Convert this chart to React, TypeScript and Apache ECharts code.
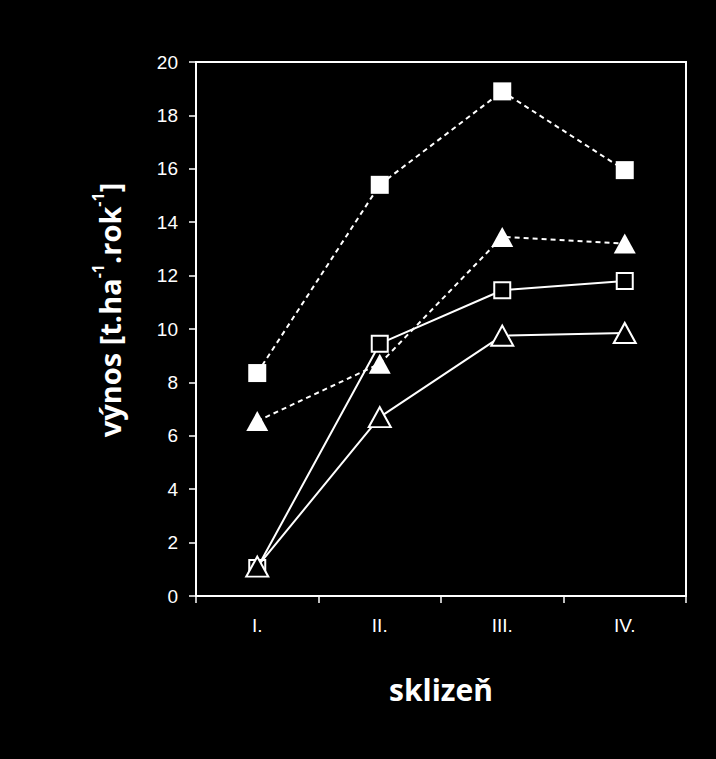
import React, { useEffect, useRef } from "react";
import * as echarts from "echarts";

const categories = ["I.", "II.", "III.", "IV."];
const filledSquares = [8.35, 15.4, 18.9, 15.95];
const filledTriangles = [6.55, 8.7, 13.45, 13.2];
const openSquares = [1.05, 9.45, 11.45, 11.8];
const openTriangles = [1.1, 6.7, 9.75, 9.85];
const yTicks = { min: 0, max: 20, interval: 2 };

export default function App() {
  const ref = useRef<HTMLDivElement>(null);
  useEffect(() => {
    if (!ref.current) return;
    const chart = echarts.init(ref.current, null, { renderer: "svg" });
    const font = "'Liberation Sans', Arial, sans-serif";
    const titleFont = "'Open Sans', sans-serif";
    const white = "#ffffff";
    chart.setOption({
      animation: false,
      backgroundColor: "#000000",
      grid: {
        left: 196,
        right: 30,
        top: 62,
        bottom: 163,
        show: true,
        borderColor: white,
        borderWidth: 2,
        backgroundColor: "transparent",
      },
      xAxis: {
        type: "category",
        data: categories,
        boundaryGap: true,
        axisLine: { show: true, lineStyle: { color: white, width: 2 } },
        axisTick: { show: true, inside: false, length: 7, lineStyle: { color: white, width: 1.5 } },
        axisLabel: { color: white, fontSize: 19, fontFamily: font, margin: 20 },
        splitLine: { show: false },
        name: "sklizeň",
        nameLocation: "middle",
        nameGap: 78,
        nameTextStyle: { color: white, fontSize: 30, fontWeight: "bold", fontFamily: titleFont },
      },
      yAxis: {
        type: "value",
        min: yTicks.min,
        max: yTicks.max,
        interval: yTicks.interval,
        axisLine: { show: true, lineStyle: { color: white, width: 2 } },
        axisTick: { show: true, inside: false, length: 7, lineStyle: { color: white, width: 1.5 } },
        axisLabel: { color: white, fontSize: 19, fontFamily: font, margin: 18 },
        splitLine: { show: false },
      },
      graphic: [
        {
          type: "text",
          x: 107,
          y: 310,
          rotation: Math.PI / 2,
          style: {
            text: "{m|výnos [t.ha}{s|-1}{m|.rok}{s|-1}{m|]}",
            fill: white,
            align: "center",
            verticalAlign: "middle",
            rich: {
              m: { fontSize: 29, fontWeight: "bold", fontFamily: titleFont, fill: white, lineHeight: 34, verticalAlign: "bottom" },
              s: { fontSize: 16, fontWeight: "bold", fontFamily: titleFont, fill: white, lineHeight: 34, verticalAlign: "top" },
            },
          },
        },
      ],
      series: [
        {
          name: "filledSquares",
          type: "line",
          data: filledSquares,
          symbol: "rect",
          symbolSize: 18,
          itemStyle: { color: white },
          lineStyle: { color: white, width: 2, type: [5, 4] },
          z: 3,
        },
        {
          name: "openSquares",
          type: "line",
          data: openSquares,
          symbol: "rect",
          symbolSize: 16,
          itemStyle: { color: "#000", borderColor: white, borderWidth: 2 },
          lineStyle: { color: white, width: 2, type: "solid" },
          z: 3,
        },
        {
          name: "openTriangles",
          type: "line",
          data: openTriangles,
          symbol: "triangle",
          symbolSize: [22, 20],
          itemStyle: { color: "#000", borderColor: white, borderWidth: 2 },
          lineStyle: { color: white, width: 2, type: "solid" },
          z: 4,
        },
        {
          name: "filledTriangles",
          type: "line",
          data: filledTriangles,
          symbol: "triangle",
          symbolSize: [22, 20],
          itemStyle: { color: white },
          lineStyle: { color: white, width: 2, type: [5, 4] },
          z: 5,
        },
      ],
    });
    return () => chart.dispose();
  }, []);
  return <div ref={ref} style={{ width: 716, height: 759, position: "absolute", left: 0, top: 0 }} />;
}
